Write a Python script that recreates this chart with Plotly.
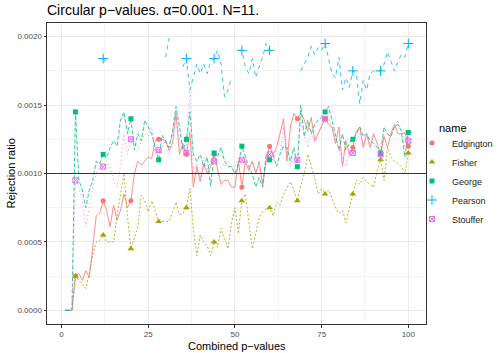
import plotly.graph_objects as go

# rejection ratios, in units of 1e-4, for combined p-values 1..100
combined = list(range(1, 101))
method_names = ["Edgington", "Fisher", "George", "Pearson", "Stouffer"]

edgington = [0, 0, 0, 2.5, 2.7, 2.2, 2.9, 2.4, 4.6, 6.9, 7.1, 8.0, 7.3, 6.1, 7.7, 6.6, 7.3, 8.5, 7.5, 8.0,
             10.0, 10.9, 10.6, 10.9, 11.2, 11.1, 12.4, 12.5, 12.5, 12.4, 11.7, 12.2, 14.4, 11.4, 12.2, 11.4, 13.0, 9.0, 10.5, 9.4,
             10.7, 10.0, 10.5, 11.4, 10.3, 9.2, 9.5, 9.5, 9.0, 9.0, 10.9, 9.0, 10.9, 10.2, 10.9, 10.0, 10.9, 9.1, 10.9, 12.0,
             11.4, 11.9, 12.9, 14.0, 10.9, 13.4, 14.4, 14.0, 14.4, 13.9, 13.1, 14.1, 12.4, 12.9, 13.4, 14.0, 13.6, 13.4, 12.2, 13.4,
             10.5, 12.4, 11.4, 11.9, 13.1, 13.4, 11.9, 12.9, 11.9, 12.9, 12.2, 11.4, 12.7, 11.9, 12.9, 13.6, 12.9, 12.9, 13.0, 12.0]
fisher = [0, 0, 0, 2.5, 2.2, 1.9, 1.6, 2.7, 4.0, 5.0, 5.1, 5.5, 5.0, 5.0, 5.0, 6.9, 8.5, 10.0, 6.9, 4.5,
          5.3, 6.1, 8.4, 8.0, 7.2, 8.0, 7.3, 6.5, 6.5, 6.5, 6.5, 7.2, 7.9, 7.0, 7.1, 7.5, 8.9, 6.0, 4.0, 5.5,
          5.0, 4.7, 4.0, 5.0, 4.6, 6.0, 5.2, 4.5, 6.4, 7.5, 5.6, 8.0, 8.5, 6.5, 4.5, 5.6, 6.8, 7.2, 7.4, 7.5,
          6.9, 7.9, 7.7, 8.5, 9.0, 9.4, 8.8, 8.0, 9.1, 10.0, 11.4, 10.5, 9.7, 8.5, 8.9, 8.5, 8.8, 8.2, 7.5, 7.1,
          7.3, 6.4, 7.5, 8.5, 9.5, 9.2, 9.7, 9.4, 9.2, 9.0, 10.2, 11.0, 9.5, 11.9, 11.2, 10.9, 10.7, 10.5, 10.0, 11.5]
george = [0, 0, 0, 14.5, 9.5, 8.8, 7.5, 8.8, 9.5, 10.9, 10.7, 11.4, 11.1, 11.9, 12.4, 12.0, 13.9, 14.5, 12.9, 14.0,
          11.7, 12.9, 12.4, 13.9, 13.4, 12.9, 11.9, 11.0, 12.8, 12.4, 11.9, 13.1, 14.9, 13.4, 11.7, 12.5, 14.5, 11.4, 10.9, 11.4,
          10.5, 11.2, 9.1, 11.5, 11.2, 11.9, 10.9, 10.5, 10.5, 10.0, 10.7, 12.0, 11.2, 10.5, 10.0, 9.0, 9.7, 9.0, 11.4, 11.0,
          11.4, 10.5, 11.4, 12.0, 11.9, 10.9, 11.9, 10.5, 15.0, 12.7, 13.9, 12.9, 13.6, 13.9, 14.1, 14.5, 14.9, 13.9, 12.9, 11.7,
          12.9, 11.7, 12.2, 12.5, 12.9, 13.4, 12.7, 12.9, 12.4, 12.2, 11.9, 11.5, 13.4, 12.9, 12.7, 13.4, 13.6, 13.1, 11.2, 13.0]
pearson = [0, 0, 0, None, None, None, None, None, None, None, None, 18.4, 18.0, None, None, None, None, None, None, None,
           None, None, None, None, None, None, None, None, None, 18.5, 19.9, None, None, None, 17.8, 18.4, 16.1, 17.0, 18.0, 17.3,
           18.0, 17.3, 18.2, 18.4, 19.0, 18.0, 15.6, 16.1, 17.0, None, 19.0, 19.0, 17.8, 17.3, 18.4, 17.0, 17.8, 18.5, 19.5, 19.0,
           None, None, None, None, None, None, None, None, 17.5, 18.0, 18.5, 19.3, 18.7, 19.2, 19.0, 19.5, 18.5, 17.3, 17.0, 18.5,
           16.1, 17.0, 16.3, 17.5, 17.3, 15.1, 16.8, 16.1, 17.3, 17.5, 17.5, 17.5, 18.0, 18.9, 18.2, 17.5, 18.2, 18.7, 18.5, 19.5]
stouffer = [0, 0, 0, 9.5, 9.0, 8.0, 6.1, 7.5, 9.0, 10.0, 10.5, 10.5, 10.9, 10.5, 9.5, 9.0, 10.5, 12.9, 11.4, 12.5,
            12.4, 11.7, 12.4, 12.9, 12.7, 13.4, 11.4, 11.7, 11.9, 12.4, 11.4, 12.9, 14.4, 12.4, 11.9, 11.5, 16.1, 10.0, 10.7, 9.7,
            11.2, 10.2, 10.9, 10.9, 10.7, 10.9, 10.5, 10.9, 10.5, 10.5, 11.2, 11.0, 10.7, 10.5, 10.9, 10.2, 10.5, 9.5, 10.9, 11.4,
            10.9, 11.7, 11.4, 13.4, 11.9, 10.5, 11.4, 11.0, 13.9, 12.7, 11.9, 12.9, 12.2, 12.9, 13.4, 14.0, 14.1, 13.4, 12.7, 11.9,
            10.9, 10.5, 11.7, 11.5, 12.4, 12.9, 12.2, 12.7, 12.2, 11.9, 11.7, 11.4, 13.1, 12.7, 12.9, 13.4, 13.9, 13.1, 11.9, 12.4]

alpha = 0.001
y_ticks = [0, 0.0005, 0.001, 0.0015, 0.002]

COLORS = ["#F8766D", "#A3A500", "#00BF7D", "#00B0F6", "#E76BF3"]
DASHES = ["solid", "2px,2px", "4px,2px", "4px,4px", "1px,3px"]
SYMBOLS = ["circle", "triangle-up", "square", "cross-thin-open", "square-x-open"]
SIZES = [5, 6, 5, 7, 5]
FONT = "Liberation Sans, Arial, sans-serif"

series = [edgington, fisher, george, pearson, stouffer]


def scaled(vals):
    return [None if v is None else v * 1e-4 for v in vals]


fig = go.Figure()

# lines first (ggplot draws the line layer under the points)
for name, vals, col, dash in zip(method_names, series, COLORS, DASHES):
    fig.add_trace(go.Scatter(x=combined, y=scaled(vals), mode="lines", name=name,
                             line=dict(color=col, width=1, dash=dash), opacity=0.8,
                             showlegend=False, connectgaps=False, hoverinfo="skip"))

# points every 8th combined p-value
for name, vals, col, sym, sz in zip(method_names, series, COLORS, SYMBOLS, SIZES):
    xs = combined[3::8]
    ys = scaled(vals)[3::8]
    open_sym = sym.endswith("open")
    fig.add_trace(go.Scatter(x=xs, y=ys, mode="markers", name=name,
                             marker=dict(color=col, symbol=sym, size=sz,
                                         line=dict(color=col, width=1 if open_sym else 0))))

fig.add_hline(y=alpha, line=dict(color="#333333", width=1))

# axis titles and legend title as annotations so they sit where ggplot puts them
fig.add_annotation(text="Combined p\u2212values", x=0.5, y=-0.072, xref="paper", yref="paper",
                   showarrow=False, yanchor="middle", font=dict(size=11, color="black"))
fig.add_annotation(text="Rejection ratio", x=-0.0976, y=0.5, xref="paper", yref="paper",
                   showarrow=False, textangle=-90, xanchor="center", font=dict(size=11, color="black"))
fig.add_annotation(text="name", x=1.029, y=0.651, xref="paper", yref="paper", showarrow=False,
                   xanchor="left", yanchor="middle", font=dict(size=11, color="black"))

fig.update_layout(
    width=498, height=353,
    margin=dict(l=47, r=72, t=23, b=29, autoexpand=False),
    paper_bgcolor="white", plot_bgcolor="white",
    font=dict(family=FONT, color="#1A1A1A"),
    title=dict(text="Circular p\u2212values. \u03b1=0.001. N=11.", x=47 / 498, xanchor="left",
               y=1 - 10 / 353, yanchor="middle", font=dict(size=14, color="black")),
    legend=dict(font=dict(size=9), x=0.963, xanchor="left", y=0.475, yanchor="middle",
                bgcolor="rgba(0,0,0,0)", itemsizing="trace", itemwidth=30),
)
fig.update_xaxes(range=[-4.2, 105.1], tickvals=[0, 25, 50, 75, 100], ticks="outside", ticklen=2.5,
                 tickcolor="#333333", tickfont=dict(size=8, color="#4D4D4D"), automargin=False,
                 showgrid=True, gridcolor="#EBEBEB", gridwidth=1, zeroline=False,
                 showline=True, linecolor="#333333", linewidth=1, mirror=True,
                 minor=dict(dtick=12.5, tick0=12.5, showgrid=True, gridcolor="#F3F3F3", gridwidth=0.5))
fig.update_yaxes(range=[-0.0001, 0.0021], tickvals=y_ticks, tickformat=".4f", ticks="outside", ticklen=2.5,
                 tickcolor="#333333", tickfont=dict(size=8, color="#4D4D4D"), automargin=False,
                 showgrid=True, gridcolor="#EBEBEB", gridwidth=1, zeroline=False,
                 showline=True, linecolor="#333333", linewidth=1, mirror=True,
                 minor=dict(dtick=0.00025, tick0=0.00025, showgrid=True, gridcolor="#F3F3F3", gridwidth=0.5))

# the page's default body margin would shift the figure by 8px
fig.write_html("out.html", config={"displayModeBar": False},
               post_script="document.body.style.margin='0';")
